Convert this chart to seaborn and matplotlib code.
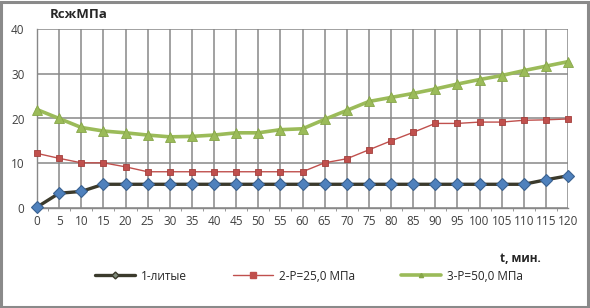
import pandas as pd
import seaborn as sns
import matplotlib.pyplot as plt
from matplotlib.lines import Line2D
from matplotlib.patches import Rectangle

# время, мин
t = [0, 5, 10, 15, 20, 25, 30, 35, 40, 45, 50, 55, 60,
     65, 70, 75, 80, 85, 90, 95, 100, 105, 110, 115, 120]

# прочность на сжатие, МПа
s1 = [0.2, 3.3, 3.7, 5.3, 5.3, 5.3, 5.3, 5.3, 5.3, 5.3, 5.3, 5.3, 5.3,
      5.3, 5.3, 5.3, 5.3, 5.3, 5.3, 5.3, 5.3, 5.3, 5.3, 6.3, 7.2]
s2 = [12.2, 11.1, 10.1, 10.1, 9.2, 8.1, 8.1, 8.1, 8.1, 8.1, 8.1, 8.1, 8.1,
      10.1, 11.0, 13.0, 15.0, 16.9, 18.9, 18.9, 19.2, 19.2, 19.6, 19.7, 19.9]
s3 = [22.0, 20.0, 18.0, 17.2, 16.8, 16.3, 15.9, 16.0, 16.3, 16.8, 16.8, 17.5, 17.7,
      19.8, 21.8, 23.8, 24.7, 25.6, 26.6, 27.7, 28.7, 29.6, 30.7, 31.7, 32.7]

labels = ['1-литые', '2-P=25,0 МПа', '3-P=50,0 МПа']

df = pd.DataFrame({'t': t * 3,
                   'R': s1 + s2 + s3,
                   'serie': [labels[0]] * len(t) + [labels[1]] * len(t) + [labels[2]] * len(t)})

sns.set_style('white')
plt.rcParams['font.family'] = ['Open Sans', 'DejaVu Sans']

fig = plt.figure(figsize=(5.9, 3.08), dpi=100)
ax = fig.add_axes([37 / 590, 1 - 208 / 308, (568 - 37) / 590, (208 - 29) / 308])

grid_c = '#888888'

styles = {
    labels[0]: dict(color='#3b3a2c', lw=2.4, marker='D', ms=6.5, mfc='#4f81bd', mec='#3a6190', mew=0.8),
    labels[1]: dict(color='#c0504d', lw=1.0, marker='s', ms=5, mfc='#c0504d', mec='#a33f3c', mew=0.6),
    labels[2]: dict(color='#9bbb59', lw=2.6, marker='^', ms=7.5, mfc='#9bbb59', mec='#86a648', mew=0.6),
}

# зелёная и красная под чёрной
for name in [labels[2], labels[1], labels[0]]:
    st = styles[name]
    sub = df[df['serie'] == name]
    sns.lineplot(data=sub, x='t', y='R', ax=ax, color=st['color'], linewidth=st['lw'],
                 marker=st['marker'], markersize=st['ms'], markerfacecolor=st['mfc'],
                 markeredgecolor=st['mec'], markeredgewidth=st['mew'], legend=False,
                 zorder=3, clip_on=False)

ax.set_xlim(0, 120)
ax.set_ylim(0, 40)
ax.set_xticks(t)
ax.set_xticks([x + 2.5 for x in t[:-1]], minor=True)
ax.set_yticks([0, 10, 20, 30, 40])
ax.grid(True, which='major', color=grid_c, linewidth=1.1)
ax.set_axisbelow(True)
for side in ['top', 'right']:
    ax.spines[side].set_visible(False)
for side in ['left', 'bottom']:
    ax.spines[side].set_color(grid_c)
    ax.spines[side].set_linewidth(1.0)
ax.tick_params(axis='x', which='major', length=4, color=grid_c, labelsize=8.5, pad=1, labelcolor='#404040')
ax.tick_params(axis='x', which='minor', length=2, color=grid_c, bottom=True)
ax.tick_params(axis='y', length=0, labelsize=8.5, pad=9, labelcolor='#404040')
ax.set_xlabel('')
ax.set_ylabel('')

fig.text(50 / 590, 1 - 15 / 308, 'RcжМПа', fontsize=9.5, fontweight='bold', va='center', ha='left', color='#262626')
fig.text(500 / 590, 1 - 259 / 308, 't, мин.', fontsize=8.5, fontweight='bold', va='center', ha='left', color='#262626')

handles = [
    Line2D([], [], color=styles[labels[0]]['color'], lw=2.4, marker='D', ms=3.5, mfc='#7f8a7a', mec='#3b3a2c'),
    Line2D([], [], color=styles[labels[1]]['color'], lw=1.0, marker='s', ms=4.5, mfc='#c0504d', mec='#c0504d'),
    Line2D([], [], color=styles[labels[2]]['color'], lw=2.6, marker='^', ms=3, mfc='#86a648', mec='#86a648'),
]
fig.legend(handles, labels, loc='center', bbox_to_anchor=(309 / 590, 1 - 276 / 308), ncol=3,
           frameon=False, fontsize=8.5, handlelength=3.4, handletextpad=0.5, columnspacing=3.9,
           labelcolor='#262626')

fig.patches.append(Rectangle((0.002, 0.004), 0.994, 0.99, transform=fig.transFigure,
                             fill=False, edgecolor='#8a8a8a', linewidth=2.2))

fig.savefig('out.png', dpi=100)
plt.close()
